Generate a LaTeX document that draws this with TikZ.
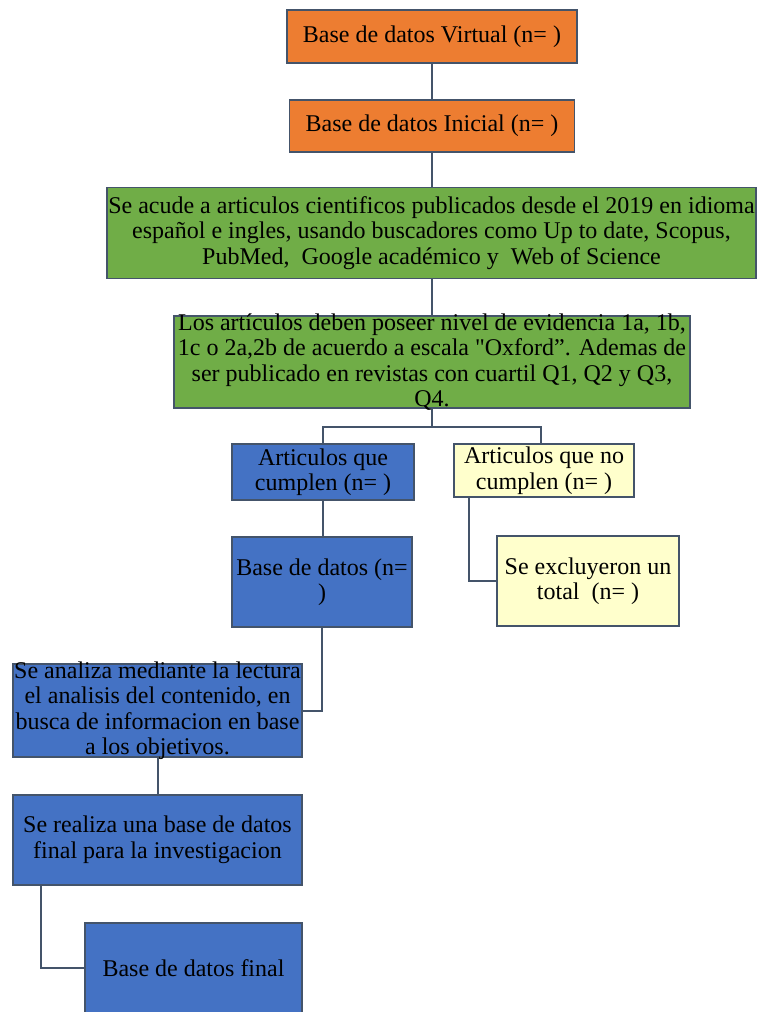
\documentclass[tikz,border=0pt]{standalone}
\usepackage{fontspec}
\setmainfont{Liberation Serif}[Ligatures=TeXOff]
\definecolor{lineC}{HTML}{44546A}
\definecolor{orangeC}{HTML}{ED7D31}
\definecolor{greenC}{HTML}{70AD47}
\definecolor{blueC}{HTML}{4472C4}
\definecolor{yellowC}{HTML}{FFFFCC}
\begin{document}
\begin{tikzpicture}[x=1pt,y=-1pt,
  box/.style={draw=lineC, line width=1.8pt, align=center, inner sep=0pt,
    font=\fontsize{24}{25.5}\selectfont},
  tight/.style={inner ysep=-8pt},
  conn/.style={draw=lineC, line width=2pt}]
\useasboundingbox (0,0) rectangle (758,1012);
\clip (0,0) rectangle (758,1012);
\node[box, fill=orangeC, minimum width=290pt, minimum height=53pt] (v) at (432,36.5) {Base de datos Virtual (n=~)};
\node[box, fill=orangeC, minimum width=285pt, minimum height=52pt] (i) at (432,126) {Base de datos Inicial (n=~)};
\node[box, fill=greenC, minimum width=649pt, minimum height=91pt] (g1) at (431.5,233) {Se acude a articulos cientificos publicados desde el 2019 en idioma\\ español e ingles, usando buscadores como Up to date, Scopus,\\ PubMed,~ Google académico y~ Web of Science};
\node[box, tight, fill=greenC, minimum width=516pt, minimum height=92pt] (g2) at (432,362) {Los artículos deben poseer nivel de evidencia 1a, 1b,\\ 1c o 2a,2b de acuerdo a escala "Oxford”. Ademas de\\ ser publicado en revistas con cuartil Q1, Q2 y Q3,\\ Q4.};
\node[box, fill=blueC, minimum width=182pt, minimum height=56pt] (c) at (323,472) {Articulos que\\ cumplen (n=~)};
\node[box, fill=yellowC, minimum width=180pt, minimum height=53pt] (nc) at (544,470.5) {Articulos que no\\ cumplen (n=~)};
\node[box, fill=blueC, minimum width=180pt, minimum height=90pt] (b) at (322,582) {Base de datos (n=\\ )};
\node[box, fill=yellowC, minimum width=182pt, minimum height=90pt] (ex) at (588,581) {Se excluyeron un\\ total~ (n=~)};
\node[box, tight, fill=blueC, minimum width=289pt, minimum height=93pt] (an) at (157.5,710.5) {Se analiza mediante la lectura\\ el analisis del contenido, en\\ busca de informacion en base\\ a los objetivos.};
\node[box, fill=blueC, minimum width=289pt, minimum height=90pt] (rf) at (157.5,840) {Se realiza una base de datos\\ final para la investigacion};
\node[box, fill=blueC, minimum width=217pt, minimum height=90pt] (fin) at (193.5,968) {Base de datos final};
\coordinate (split) at (432,427);
\draw[conn] (v.south) -- (i.north);
\draw[conn] (i.south) -- (i.south |- g1.north);
\draw[conn] (g1.south) -- (g1.south |- g2.north);
\draw[conn] (g2.south) -- (split);
\draw[conn] (c.north) |- (split) -| ([xshift=-3pt]nc.north);
\draw[conn] (c.south) -- (c.south |- b.north);
\draw[conn] ([xshift=16pt]nc.south west) |- (ex.west);
\draw[conn] (b.south) |- (an.east);
\draw[conn] (an.south) -- (rf.north);
\draw[conn] ([xshift=29pt]rf.south west) |- (fin.west);
\end{tikzpicture}
\end{document}
